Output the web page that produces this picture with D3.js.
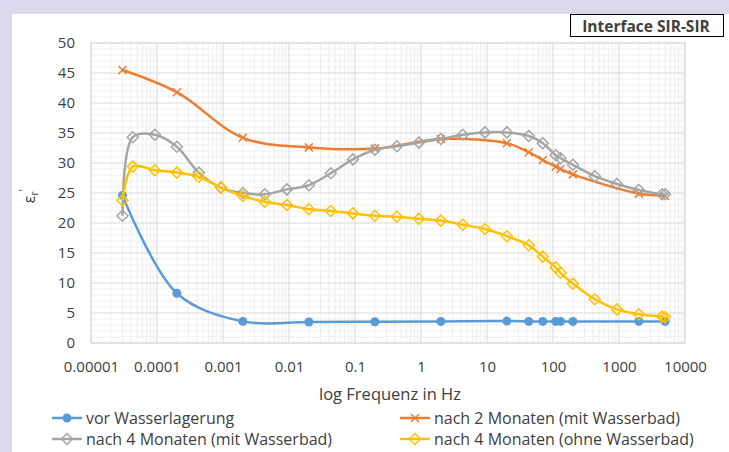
<!DOCTYPE html>
<html>
<head>
<meta charset="utf-8">
<script src="https://cdn.jsdelivr.net/npm/d3@7"></script>
<style>
  body { margin: 0; background: #d9d8ee; }
  text { font-family: 'Open Sans', sans-serif; fill: #404040; }
</style>
</head>
<body>
<div id="chart"></div>
<script>
// frequencies (Hz)
var freqShort = [3e-5, 2e-4, 2e-3, 0.02, 0.2, 2, 20, 43, 70, 110, 130, 200, 2000, 5000];
var freqLong = [3e-5, 4.3e-5, 9.3e-5, 2e-4, 4.3e-4, 9.3e-4, 2e-3, 4.3e-3, 9.3e-3, 0.02, 0.043, 0.093,
                0.2, 0.43, 0.93, 2, 4.3, 9.3, 20, 43, 70, 110, 130, 200, 430, 930, 2000, 4500, 5000];

var vorWasser = [24.6, 8.3, 3.6, 3.5, 3.55, 3.6, 3.65, 3.6, 3.6, 3.6, 3.6, 3.6, 3.6, 3.6];
var nach2Mit = [45.5, 41.8, 34.2, 32.6, 32.4, 34.0, 33.3, 31.8, 30.5, 29.4, 29.0, 28.1, 24.9, 24.5];
var nach4Mit = [21.2, 34.3, 34.7, 32.7, 28.4, 25.9, 25.0, 24.8, 25.6, 26.3, 28.3, 30.6, 32.2, 32.8, 33.4,
                34.0, 34.7, 35.1, 35.1, 34.5, 33.3, 31.3, 30.8, 29.7, 27.8, 26.5, 25.5, 24.8, 24.8];
var nach4Ohne = [23.8, 29.4, 28.8, 28.4, 27.7, 25.9, 24.5, 23.55, 23.0, 22.3, 22.0, 21.6, 21.2, 21.05, 20.7,
                 20.4, 19.7, 19.0, 17.8, 16.3, 14.4, 12.6, 11.7, 9.9, 7.3, 5.6, 4.8, 4.4, 4.3];

var xTicks = [1e-5, 1e-4, 1e-3, 1e-2, 0.1, 1, 10, 100, 1000, 10000];
var xTickLabels = ["0.00001", "0.0001", "0.001", "0.01", "0.1", "1", "10", "100", "1000", "10000"];
var yTicks = [0, 5, 10, 15, 20, 25, 30, 35, 40, 45, 50];

var series = [
  { name: "vor Wasserlagerung", f: freqShort, v: vorWasser, color: "#5b9bd5", marker: "circle" },
  { name: "nach 2 Monaten (mit Wasserbad)", f: freqShort, v: nach2Mit, color: "#ed7d31", marker: "x" },
  { name: "nach 4 Monaten (mit Wasserbad)", f: freqLong, v: nach4Mit, color: "#a5a5a5", marker: "diamond" },
  { name: "nach 4 Monaten (ohne Wasserbad)", f: freqLong, v: nach4Ohne, color: "#ffc000", marker: "diamond" }
];

var W = 729, H = 452;
var plotL = 91, plotR = 685, plotT = 43, plotB = 343;

var svg = d3.select("#chart").append("svg")
  .attr("width", W).attr("height", H);

svg.append("rect").attr("width", W).attr("height", H).attr("fill", "#d9d8ee");
svg.append("rect").attr("x", 12).attr("y", 14).attr("width", W - 12).attr("height", H - 14).attr("fill", "#ffffff");

var x = d3.scaleLog().domain([1e-5, 1e4]).range([plotL, plotR]);
var y = d3.scaleLinear().domain([0, 50]).range([plotB, plotT]);

// minor grid
var minorX = [];
xTicks.slice(0, -1).forEach(function(t) {
  for (var k = 2; k <= 9; k++) minorX.push(t * k);
});
var minorY = d3.range(0, 51, 1).filter(function(d) { return d % 5 != 0; });

svg.append("g").selectAll("line").data(minorX).enter().append("line")
  .attr("x1", function(d) { return x(d); }).attr("x2", function(d) { return x(d); })
  .attr("y1", plotT).attr("y2", plotB)
  .attr("stroke", "#efefef").attr("stroke-width", 1);
svg.append("g").selectAll("line").data(minorY).enter().append("line")
  .attr("x1", plotL).attr("x2", plotR)
  .attr("y1", function(d) { return y(d); }).attr("y2", function(d) { return y(d); })
  .attr("stroke", "#efefef").attr("stroke-width", 1);

// major grid
svg.append("g").selectAll("line").data(xTicks).enter().append("line")
  .attr("x1", function(d) { return x(d); }).attr("x2", function(d) { return x(d); })
  .attr("y1", plotT).attr("y2", plotB)
  .attr("stroke", "#d9d9d9").attr("stroke-width", 1);
svg.append("g").selectAll("line").data(yTicks).enter().append("line")
  .attr("x1", plotL).attr("x2", plotR)
  .attr("y1", function(d) { return y(d); }).attr("y2", function(d) { return y(d); })
  .attr("stroke", "#d9d9d9").attr("stroke-width", 1);

svg.append("rect").attr("x", plotL).attr("y", plotT)
  .attr("width", plotR - plotL).attr("height", plotB - plotT)
  .attr("fill", "none").attr("stroke", "#d9d9d9");

// axes (labels only)
var xAxis = svg.append("g")
  .attr("transform", "translate(0," + plotB + ")")
  .call(d3.axisBottom(x).tickValues(xTicks).tickSize(0).tickPadding(18)
    .tickFormat(function(d, i) { return xTickLabels[i]; }));
xAxis.select(".domain").remove();
xAxis.selectAll("text").style("font-family", "Open Sans").style("font-size", "15px").attr("fill", "#404040");

var yAxis = svg.append("g")
  .attr("transform", "translate(" + plotL + ",0)")
  .call(d3.axisLeft(y).tickValues(yTicks).tickSize(0).tickPadding(16));
yAxis.select(".domain").remove();
yAxis.selectAll("text").style("font-family", "Open Sans").style("font-size", "15px").attr("fill", "#404040");

// axis titles
svg.append("text")
  .attr("x", 390).attr("y", 400)
  .attr("text-anchor", "middle")
  .style("font-size", "16.5px")
  .text("log Frequenz in Hz");

var yt = svg.append("text")
  .attr("transform", "translate(35,196)rotate(-90)")
  .attr("text-anchor", "middle")
  .style("font-size", "16px");
yt.append("tspan").text("ε");
yt.append("tspan").attr("dy", 3).style("font-size", "10px").text("r");
yt.append("tspan").attr("dy", -10).style("font-size", "12px").text("'");

// title box
svg.append("rect").attr("x", 570.5).attr("y", 14.5).attr("width", 153).attr("height", 22)
  .attr("fill", "#ffffff").attr("stroke", "#000000").attr("stroke-width", 1);
svg.append("text").attr("x", 646).attr("y", 31.5).attr("text-anchor", "middle")
  .style("font-size", "15.5px").style("font-weight", "700").attr("fill", "#111111")
  .text("Interface SIR-SIR");

// lines + markers
var line = d3.line()
  .x(function(d) { return x(d[0]); })
  .y(function(d) { return y(d[1]); })
  .curve(d3.curveCatmullRom.alpha(0.5));

function drawMarker(g, type, color, cx, cy) {
  if (type == "circle") {
    g.append("circle").attr("cx", cx).attr("cy", cy).attr("r", 4.5).attr("fill", color);
  } else if (type == "x") {
    g.append("path")
      .attr("d", "M" + (cx - 4) + "," + (cy - 4) + "L" + (cx + 4) + "," + (cy + 4) +
                 "M" + (cx - 4) + "," + (cy + 4) + "L" + (cx + 4) + "," + (cy - 4))
      .attr("stroke", color).attr("stroke-width", 1.5).attr("fill", "none");
  } else {
    g.append("path")
      .attr("d", "M" + cx + "," + (cy - 5.5) + "L" + (cx + 5.5) + "," + cy + "L" + cx + "," + (cy + 5.5) +
                 "L" + (cx - 5.5) + "," + cy + "Z")
      .attr("stroke", color).attr("stroke-width", 1.5).attr("fill", "none");
  }
}

series.forEach(function(s) {
  var pts = s.f.map(function(f, i) { return [f, s.v[i]]; });
  var g = svg.append("g");
  g.append("path").datum(pts)
    .attr("d", line)
    .attr("fill", "none").attr("stroke", s.color).attr("stroke-width", 2.5);
  pts.forEach(function(p) { drawMarker(g, s.marker, s.color, x(p[0]), y(p[1])); });
});

// legend
var legendPos = [[52, 418], [400, 418], [52, 439], [400, 439]];
series.forEach(function(s, i) {
  var lx = legendPos[i][0], ly = legendPos[i][1];
  var g = svg.append("g");
  g.append("line").attr("x1", lx).attr("x2", lx + 30).attr("y1", ly).attr("y2", ly)
    .attr("stroke", s.color).attr("stroke-width", 2.5);
  drawMarker(g, s.marker, s.color, lx + 15, ly);
  g.append("text").attr("x", lx + 34).attr("y", ly + 5.5)
    .style("font-size", "16px").text(s.name);
});
</script>
</body>
</html>
